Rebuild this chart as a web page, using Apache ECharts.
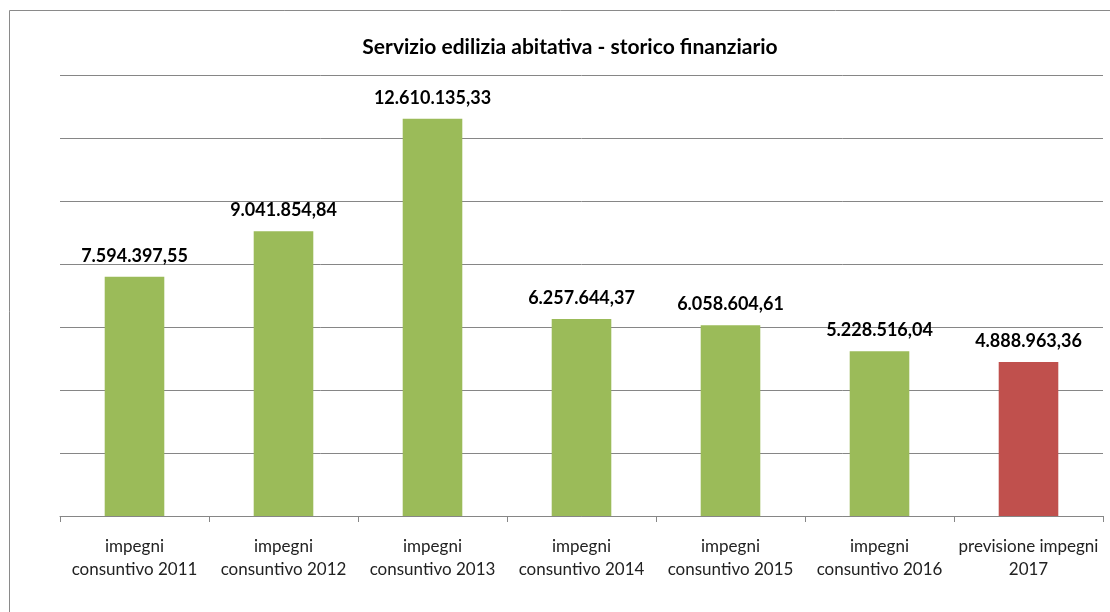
<!DOCTYPE html>
<html><head><meta charset="utf-8">
<script src="https://cdn.jsdelivr.net/npm/echarts@6/dist/echarts.min.js"></script>
<style>html,body{margin:0;padding:0;background:#fff}#c{width:1110px;height:612px}</style>
</head><body><div id="c"></div>
<script>
const categories = ['impegni\nconsuntivo 2011','impegni\nconsuntivo 2012','impegni\nconsuntivo 2013','impegni\nconsuntivo 2014','impegni\nconsuntivo 2015','impegni\nconsuntivo 2016','previsione impegni\n2017'];
const values = [7594397.55, 9041854.84, 12610135.33, 6257644.37, 6058604.61, 5228516.04, 4888963.36];
const barColors = ['#9BBB59','#9BBB59','#9BBB59','#9BBB59','#9BBB59','#9BBB59','#C0504D'];
const titleText = 'Servizio edilizia abitativa - storico finanziario';

function fmt(v){
  const parts = v.toFixed(2).split('.');
  return parts[0].replace(/\B(?=(\d{3})+(?!\d))/g,'.') + ',' + parts[1];
}
const chart = echarts.init(document.getElementById('c'));
chart.setOption({
  animation:false,
  title:{text:titleText,left:565,textAlign:'center',top:32,textStyle:{fontFamily:'Lato',fontWeight:'bold',fontSize:21,color:'#000'}},
  graphic:[{type:'rect',shape:{x:9.5,y:10.5,width:1200,height:700},style:{fill:'none',stroke:'#8a8a8a',lineWidth:1}}],
  grid:{left:60,right:7,top:75,bottom:96},
  xAxis:{type:'category',data:categories,
    axisLine:{lineStyle:{color:'#868686',width:1}},
    axisTick:{show:true,alignWithLabel:false,length:6,lineStyle:{color:'#868686'}},
    axisLabel:{interval:0,margin:19,fontFamily:'Lato',fontSize:17,color:'#222',lineHeight:23}},
  yAxis:{type:'value',min:0,max:14000000,interval:2000000,
    axisLabel:{show:false},axisLine:{show:false},axisTick:{show:false},
    splitLine:{lineStyle:{color:'#868686',width:1}}},
  series:[{type:'bar',barWidth:'40%',
    data:values.map((v,i)=>({value:v,itemStyle:{color:barColors[i]}})),
    label:{show:true,position:'top',distance:12,fontFamily:'Lato',fontWeight:'bold',fontSize:18,color:'#000',formatter:p=>fmt(p.value)}}]
});
</script></body></html>
